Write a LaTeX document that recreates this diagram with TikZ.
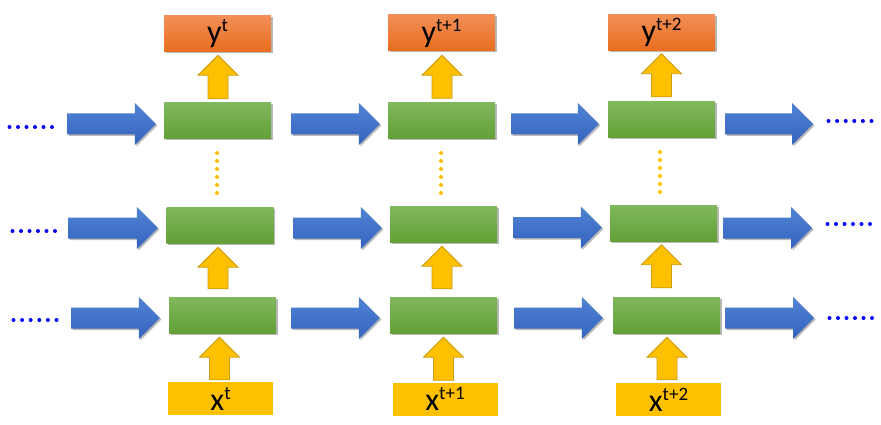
\documentclass[tikz,border=0pt]{standalone}
\usepackage{fontspec}
\setmainfont{Carlito}
\usetikzlibrary{calc,shadows}
\definecolor{gtop}{HTML}{80B85C}
\definecolor{gbot}{HTML}{62A036}
\definecolor{otop}{HTML}{F28E56}
\definecolor{obot}{HTML}{E86E1E}
\definecolor{btop}{HTML}{5083D4}
\definecolor{bbot}{HTML}{3463BE}
\definecolor{yel}{HTML}{FFC000}
\definecolor{yelline}{HTML}{CC9C10}
\definecolor{dotblue}{HTML}{0000FF}
\newcommand\lab[2]{{\fontsize{32}{32}\selectfont #1}\raisebox{11pt}{\fontsize{19}{19}\selectfont #2}}
\begin{document}
\begin{tikzpicture}[x=1pt,y=-1pt,
  shadowed/.style={drop shadow={shadow xshift=1.5pt,shadow yshift=-1.5pt,opacity=0.28,fill=black}},
  cell/.style={rectangle,inner sep=0pt,minimum width=107pt,minimum height=36pt,top color=gtop,bottom color=gbot,shadowed},
  outbox/.style={rectangle,inner sep=0pt,minimum width=107pt,minimum height=36pt,top color=otop,bottom color=obot,shadowed},
  inbox/.style={rectangle,inner sep=0pt,minimum width=105pt,minimum height=33pt,fill=yel},
  harrow/.style={top color=btop,bottom color=bbot,shadowed,
    to path={let \p1=(\tikztostart),\p2=(\tikztotarget) in
      (\x1,{\y1+10.5pt}) -- ({\x2-21pt},{\y1+10.5pt}) -- ({\x2-21pt},{\y1+21pt}) -- (\x2,\y1)
      -- ({\x2-21pt},{\y1-21pt}) -- ({\x2-21pt},{\y1-10.5pt}) -- (\x1,{\y1-10.5pt}) -- cycle}},
  varrow/.style={fill=yel,draw=yelline,line width=0.8pt,line join=miter,
    to path={let \p1=(\tikztostart),\p2=(\tikztotarget) in
      ({\x1-10pt},\y1) -- ({\x1-10pt},{\y2-20pt}) -- ({\x1-20pt},{\y2-20pt}) -- (\x1,\y2)
      -- ({\x1+20pt},{\y2-20pt}) -- ({\x1+10pt},{\y2-20pt}) -- ({\x1+10pt},\y1) -- cycle}},
  bdot/.style={fill=dotblue},
  ydot/.style={fill=yel}
]
\useasboundingbox[fill=white] (0,0) rectangle (881,425);

% column 1
\node[outbox] (o1) at (217.5,34) {\lab{y}{t}};
\node[cell] (g11) at (217.5,121) {};
\node[cell] (g12) at (220,225) {};
\node[cell] (g13) at (222.5,315) {};
\node[inbox] (x1) at (220.5,398.5) {\lab{x}{t}};
% column 2
\node[outbox] (o2) at (441.5,33) {\lab{y}{t+1}};
\node[cell] (g21) at (441.5,120.5) {};
\node[cell] (g22) at (443.5,224) {};
\node[cell] (g23) at (443.5,315) {};
\node[inbox] (x2) at (445,399) {\lab{x}{t+1}};
% column 3
\node[outbox] (o3) at (661.5,32.5) {\lab{y}{t+2}};
\node[cell] (g31) at (661.5,120) {};
\node[cell] (g32) at (663.5,223.5) {};
\node[cell] (g33) at (666.5,315) {};
\node[inbox] (x3) at (668.5,399.5) {\lab{x}{t+2}};

% free ends of the horizontal arrows
\coordinate (s1) at (67,124);
\coordinate (s2) at (68,228);
\coordinate (s3) at (71,318);
\coordinate (e1) at (813,124);
\coordinate (e2) at (812,228);
\coordinate (e3) at (814,318);

% horizontal arrows, top row
\path[harrow] (s1) to ($(g11.west)+(-8,3)$);
\path[harrow] ($(g11.east)+(20,3)$) to ($(g21.west)+(-8,3.5)$);
\path[harrow] ($(g21.east)+(16,3.5)$) to ($(g31.west)+(-9,4)$);
\path[harrow] ($(g31.east)+(10,4)$) to (e1);
% middle row
\path[harrow] (s2) to ($(g12.west)+(-8.5,3)$);
\path[harrow] ($(g12.east)+(19.5,3)$) to ($(g22.west)+(-8,4)$);
\path[harrow] ($(g22.east)+(16,3.5)$) to ($(g32.west)+(-8,4)$);
\path[harrow] ($(g32.east)+(6,4.5)$) to (e2);
% bottom row
\path[harrow] (s3) to ($(g13.west)+(-9,3)$);
\path[harrow] ($(g13.east)+(15,3)$) to ($(g23.west)+(-10,3)$);
\path[harrow] ($(g23.east)+(17,3)$) to ($(g33.west)+(-10,3)$);
\path[harrow] ($(g33.east)+(5,3)$) to (e3);

% vertical arrows
\draw[varrow] ($(g11.north)+(0.5,-4)$) to ($(o1.south)+(0.5,3)$);
\draw[varrow] ($(g13.north)+(-4.5,-8)$) to ($(g12.south)+(-2,4)$);
\draw[varrow] ($(x1.north)+(-1,-2)$) to ($(g13.south)+(-3,4)$);
\draw[varrow] ($(g21.north)+(0.5,-4)$) to ($(o2.south)+(0.5,4)$);
\draw[varrow] ($(g23.north)+(-1.5,-8)$) to ($(g22.south)+(-1.5,4)$);
\draw[varrow] ($(x2.north)+(-1.5,-2)$) to ($(g23.south)+(0,4)$);
\draw[varrow] ($(g31.north)+(0,-5)$) to ($(o3.south)+(0,3)$);
\draw[varrow] ($(g33.north)+(-5,-9)$) to ($(g32.south)+(-2,3)$);
\draw[varrow] ($(x3.north)+(-1.5,-3)$) to ($(g33.south)+(0.5,4)$);

% blue dots and vertical yellow dots
\foreach \i in {0,...,5} {
  \fill[bdot] ({9.5+8.5*\i},127) circle (2);
  \fill[bdot] ({12.5+8.5*\i},231) circle (2);
  \fill[bdot] ({13.5+8.6*\i},320) circle (2);
  \fill[bdot] ({828.5+8.6*\i},121) circle (2);
  \fill[bdot] ({827.5+8.5*\i},224) circle (2);
  \fill[bdot] ({829.5+8.5*\i},318) circle (2);
  \fill[ydot] (217,{153+8*\i}) circle (2);
  \fill[ydot] (441,{153+8*\i}) circle (2);
  \fill[ydot] (660,{152+8*\i}) circle (2);
}
\end{tikzpicture}
\end{document}
